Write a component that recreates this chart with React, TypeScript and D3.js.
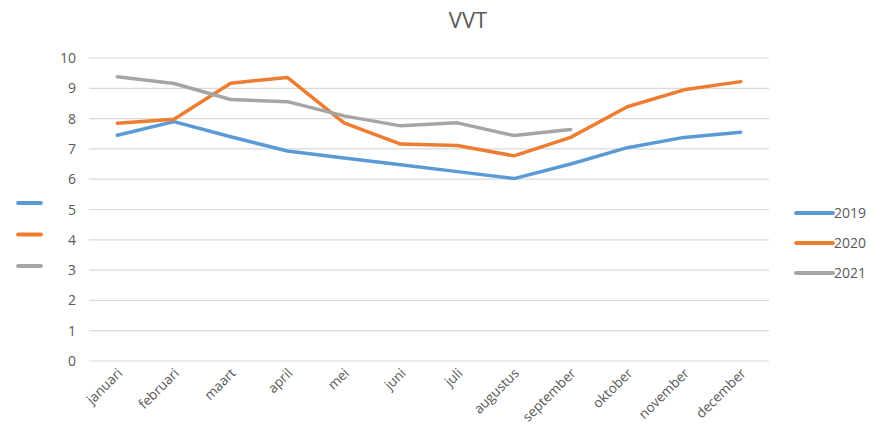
import * as d3 from "d3";
import React, { useEffect, useRef } from "react";

const months = ["januari", "februari", "maart", "april", "mei", "juni", "juli", "augustus", "september", "oktober", "november", "december"];
const years = ["2019", "2020", "2021"];
const colors = ["#5b9bd5", "#ed7d31", "#a5a5a5"];

const v2019 = [7.45, 7.9, 7.4, 6.93, 6.7, 6.48, 6.25, 6.02, 6.5, 7.04, 7.38, 7.55];
const v2020 = [7.85, 7.98, 9.17, 9.36, 7.86, 7.16, 7.11, 6.77, 7.38, 8.39, 8.95, 9.22];
const v2021 = [9.38, 9.16, 8.63, 8.56, 8.09, 7.76, 7.86, 7.44, 7.64];
const yTicks = [0, 1, 2, 3, 4, 5, 6, 7, 8, 9, 10];

const FONT = "'Open Sans', 'Liberation Sans', sans-serif";

const App = () => {
    const svgRef = useRef<SVGSVGElement>(null);

    useEffect(() => {
        const width = 871;
        const height = 435;
        const svg = d3.select(svgRef.current);
        svg.selectAll("*").remove();
        svg.attr("width", width).attr("height", height);

        svg.append("rect").attr("width", width).attr("height", height).attr("fill", "#fff");

        const x = d3.scaleBand().domain(months).range([89, 769]);
        const y = d3.scaleLinear().domain([0, 10]).range([361, 58]);

        // title
        svg.append("text")
            .attr("x", 468).attr("y", 28)
            .attr("text-anchor", "middle")
            .attr("font-family", FONT).attr("font-size", 22)
            .attr("fill", "#595959")
            .text("VVT");

        // grid
        svg.append("g").selectAll("line")
            .data(yTicks).enter().append("line")
            .attr("x1", 89).attr("x2", 769)
            .attr("y1", d => y(d)).attr("y2", d => y(d))
            .attr("stroke", "#d9d9d9").attr("stroke-width", 1.2);

        svg.append("g").selectAll("text")
            .data(yTicks).enter().append("text")
            .attr("x", 76).attr("y", d => y(d) + 5)
            .attr("text-anchor", "end")
            .attr("font-family", FONT).attr("font-size", 14)
            .attr("fill", "#595959")
            .text(d => d);

        // month labels
        svg.append("g").selectAll("text")
            .data(months).enter().append("text")
            .attr("transform", d => `translate(${x(d)! + x.bandwidth() / 2 + 6},${374}) rotate(-45)`)
            .attr("text-anchor", "end")
            .attr("font-family", FONT).attr("font-size", 13.5)
            .attr("fill", "#595959")
            .text(d => d);

        const line = d3.line<number>()
            .x((d, i) => x(months[i])! + x.bandwidth() / 2)
            .y(d => y(d));

        [v2019, v2020, v2021].forEach((vals, i) => {
            svg.append("path")
                .datum(vals)
                .attr("fill", "none")
                .attr("stroke", colors[i])
                .attr("stroke-width", 3.5)
                .attr("stroke-linejoin", "round")
                .attr("stroke-linecap", "round")
                .attr("d", line);
        });

        // left markers (unlabelled legend)
        years.forEach((yr, i) => {
            svg.append("line")
                .attr("x1", 18).attr("x2", 41)
                .attr("y1", 203 + i * 31.5).attr("y2", 203 + i * 31.5)
                .attr("stroke", colors[i]).attr("stroke-width", 3.8)
                .attr("stroke-linecap", "round");
        });

        // right legend
        years.forEach((yr, i) => {
            const ly = 213 + i * 30;
            svg.append("line")
                .attr("x1", 796).attr("x2", 833)
                .attr("y1", ly).attr("y2", ly)
                .attr("stroke", colors[i]).attr("stroke-width", 3.8)
                .attr("stroke-linecap", "round");
            svg.append("text")
                .attr("x", 834).attr("y", ly + 5)
                .attr("font-family", FONT).attr("font-size", 14)
                .attr("fill", "#595959")
                .text(yr);
        });
    }, []);

    return (
        <div style={{ position: "absolute", left: 0, top: 0 }}>
            <svg ref={svgRef} />
        </div>
    );
};

export default App;
